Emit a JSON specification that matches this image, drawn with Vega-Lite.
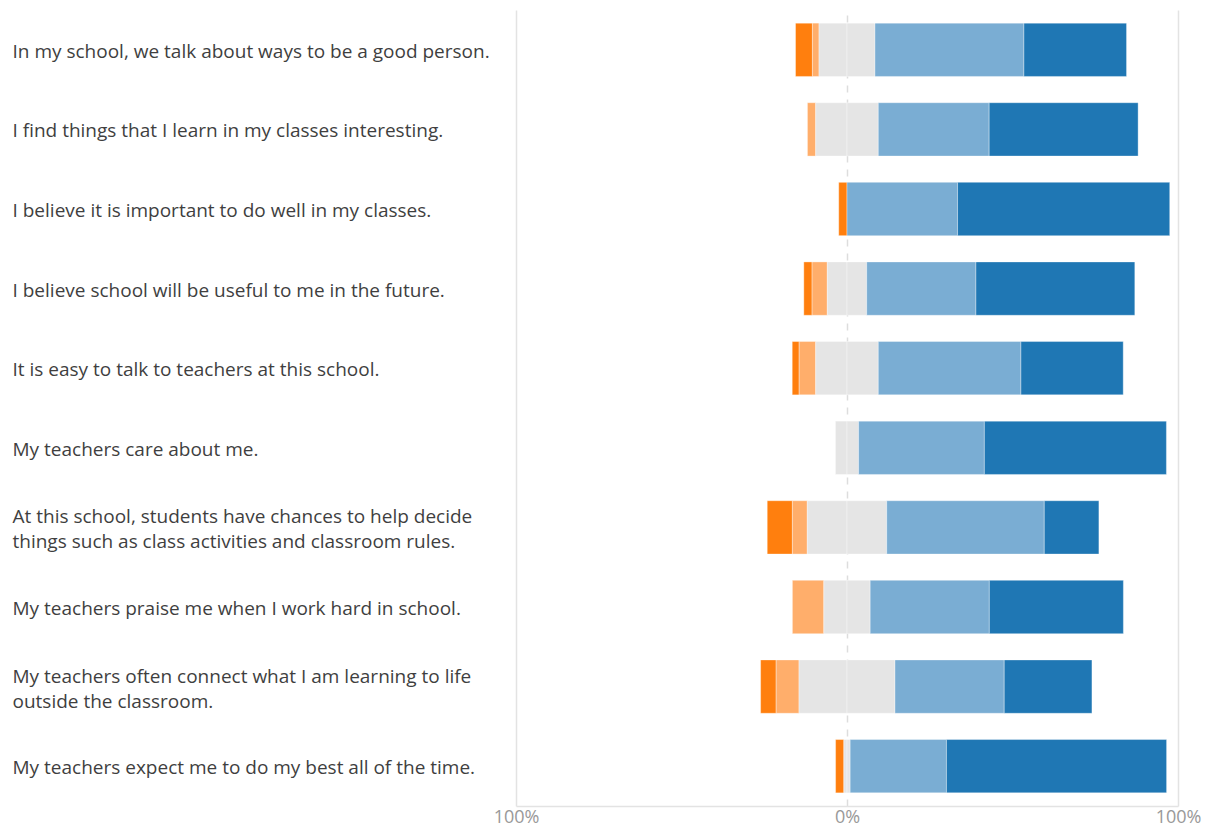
{
  "$schema": "https://vega.github.io/schema/vega-lite/v6.json",
  "autosize": "none",
  "padding": {"left": 516, "top": 10, "right": 33, "bottom": 25},
  "width": 662,
  "height": 796,
  "data": {
    "values": [
      {"q": "In my school, we talk about ways to be a good person.", "r": "Strongly disagree", "v": -5.1, "k": 2},
      {"q": "In my school, we talk about ways to be a good person.", "r": "Disagree", "v": -2.0, "k": 1},
      {"q": "In my school, we talk about ways to be a good person.", "r": "Neutral", "v": -8.45, "k": 0},
      {"q": "In my school, we talk about ways to be a good person.", "r": "Neutral", "v": 8.45, "k": 0},
      {"q": "In my school, we talk about ways to be a good person.", "r": "Agree", "v": 45.0, "k": 1},
      {"q": "In my school, we talk about ways to be a good person.", "r": "Strongly agree", "v": 31.0, "k": 2},

      {"q": "I find things that I learn in my classes interesting.", "r": "Disagree", "v": -2.5, "k": 1},
      {"q": "I find things that I learn in my classes interesting.", "r": "Neutral", "v": -9.45, "k": 0},
      {"q": "I find things that I learn in my classes interesting.", "r": "Neutral", "v": 9.45, "k": 0},
      {"q": "I find things that I learn in my classes interesting.", "r": "Agree", "v": 33.5, "k": 1},
      {"q": "I find things that I learn in my classes interesting.", "r": "Strongly agree", "v": 45.0, "k": 2},

      {"q": "I believe it is important to do well in my classes.", "r": "Strongly disagree", "v": -2.5, "k": 2},
      {"q": "I believe it is important to do well in my classes.", "r": "Agree", "v": 33.4, "k": 1},
      {"q": "I believe it is important to do well in my classes.", "r": "Strongly agree", "v": 64.1, "k": 2},

      {"q": "I believe school will be useful to me in the future.", "r": "Strongly disagree", "v": -2.5, "k": 2},
      {"q": "I believe school will be useful to me in the future.", "r": "Disagree", "v": -4.6, "k": 1},
      {"q": "I believe school will be useful to me in the future.", "r": "Neutral", "v": -5.95, "k": 0},
      {"q": "I believe school will be useful to me in the future.", "r": "Neutral", "v": 5.95, "k": 0},
      {"q": "I believe school will be useful to me in the future.", "r": "Agree", "v": 33.0, "k": 1},
      {"q": "I believe school will be useful to me in the future.", "r": "Strongly agree", "v": 48.0, "k": 2},

      {"q": "It is easy to talk to teachers at this school.", "r": "Strongly disagree", "v": -2.1, "k": 2},
      {"q": "It is easy to talk to teachers at this school.", "r": "Disagree", "v": -5.0, "k": 1},
      {"q": "It is easy to talk to teachers at this school.", "r": "Neutral", "v": -9.45, "k": 0},
      {"q": "It is easy to talk to teachers at this school.", "r": "Neutral", "v": 9.45, "k": 0},
      {"q": "It is easy to talk to teachers at this school.", "r": "Agree", "v": 43.1, "k": 1},
      {"q": "It is easy to talk to teachers at this school.", "r": "Strongly agree", "v": 30.9, "k": 2},

      {"q": "My teachers care about me.", "r": "Neutral", "v": -3.5, "k": 0},
      {"q": "My teachers care about me.", "r": "Neutral", "v": 3.5, "k": 0},
      {"q": "My teachers care about me.", "r": "Agree", "v": 38.0, "k": 1},
      {"q": "My teachers care about me.", "r": "Strongly agree", "v": 55.0, "k": 2},

      {"q": "At this school, students have chances to help decide|things such as class activities and classroom rules.", "r": "Strongly disagree", "v": -7.6, "k": 2},
      {"q": "At this school, students have chances to help decide|things such as class activities and classroom rules.", "r": "Disagree", "v": -4.5, "k": 1},
      {"q": "At this school, students have chances to help decide|things such as class activities and classroom rules.", "r": "Neutral", "v": -12.0, "k": 0},
      {"q": "At this school, students have chances to help decide|things such as class activities and classroom rules.", "r": "Neutral", "v": 12.0, "k": 0},
      {"q": "At this school, students have chances to help decide|things such as class activities and classroom rules.", "r": "Agree", "v": 47.6, "k": 1},
      {"q": "At this school, students have chances to help decide|things such as class activities and classroom rules.", "r": "Strongly agree", "v": 16.5, "k": 2},

      {"q": "My teachers praise me when I work hard in school.", "r": "Disagree", "v": -9.5, "k": 1},
      {"q": "My teachers praise me when I work hard in school.", "r": "Neutral", "v": -7.0, "k": 0},
      {"q": "My teachers praise me when I work hard in school.", "r": "Neutral", "v": 7.0, "k": 0},
      {"q": "My teachers praise me when I work hard in school.", "r": "Agree", "v": 36.0, "k": 1},
      {"q": "My teachers praise me when I work hard in school.", "r": "Strongly agree", "v": 40.5, "k": 2},

      {"q": "My teachers often connect what I am learning to life|outside the classroom.", "r": "Strongly disagree", "v": -4.7, "k": 2},
      {"q": "My teachers often connect what I am learning to life|outside the classroom.", "r": "Disagree", "v": -6.9, "k": 1},
      {"q": "My teachers often connect what I am learning to life|outside the classroom.", "r": "Neutral", "v": -14.5, "k": 0},
      {"q": "My teachers often connect what I am learning to life|outside the classroom.", "r": "Neutral", "v": 14.5, "k": 0},
      {"q": "My teachers often connect what I am learning to life|outside the classroom.", "r": "Agree", "v": 33.0, "k": 1},
      {"q": "My teachers often connect what I am learning to life|outside the classroom.", "r": "Strongly agree", "v": 26.5, "k": 2},

      {"q": "My teachers expect me to do my best all of the time.", "r": "Strongly disagree", "v": -2.5, "k": 2},
      {"q": "My teachers expect me to do my best all of the time.", "r": "Neutral", "v": -0.95, "k": 0},
      {"q": "My teachers expect me to do my best all of the time.", "r": "Neutral", "v": 0.95, "k": 0},
      {"q": "My teachers expect me to do my best all of the time.", "r": "Agree", "v": 29.1, "k": 1},
      {"q": "My teachers expect me to do my best all of the time.", "r": "Strongly agree", "v": 66.5, "k": 2}
    ]
  },
  "mark": {"type": "bar", "stroke": "white", "strokeWidth": 1, "strokeOpacity": 0.35},
  "encoding": {
    "y": {
      "field": "q",
      "type": "nominal",
      "sort": null,
      "title": null,
      "scale": {"paddingInner": 0.33, "paddingOuter": 0.165},
      "axis": {
        "domain": false,
        "ticks": false,
        "tickSize": 0,
        "labelAlign": "left",
        "labelPadding": 504,
        "labelLimit": 520,
        "labelFont": "Open Sans",
        "labelFontSize": 19,
        "labelColor": "#3f3f3f",
        "labelLineHeight": 25,
        "labelOffset": {"condition": {"test": "length(split(datum.value, '|')) > 1", "value": -10}, "value": 2},
        "labelExpr": "split(datum.label, '|')"
      }
    },
    "x": {
      "field": "v",
      "type": "quantitative",
      "stack": "zero",
      "title": null,
      "scale": {"domain": [-100, 100], "nice": false},
      "axis": {
        "values": [-100, 0, 100],
        "labelExpr": "abs(datum.value) + '%'",
        "labelFlush": false,
        "labelFont": "Open Sans",
        "labelFontSize": 18,
        "labelColor": "#999999",
        "labelPadding": 2,
        "ticks": false,
        "domainColor": "#e3e3e3",
        "domainWidth": 1.5,
        "gridColor": {"condition": {"test": "datum.value === 0", "value": "#dddddd"}, "value": "#e3e3e3"},
        "gridWidth": 1.5,
        "gridDash": {"condition": {"test": "datum.value === 0", "value": [7, 7]}, "value": []}
      }
    },
    "color": {
      "field": "r",
      "type": "nominal",
      "legend": null,
      "scale": {
        "domain": ["Strongly disagree", "Disagree", "Neutral", "Agree", "Strongly agree"],
        "range": ["#ff7f0e", "#ffae6b", "#e5e5e5", "#7aadd3", "#1f77b4"]
      }
    },
    "order": {"field": "k", "type": "quantitative", "sort": "ascending"}
  },
  "config": {"view": {"stroke": null}}
}
